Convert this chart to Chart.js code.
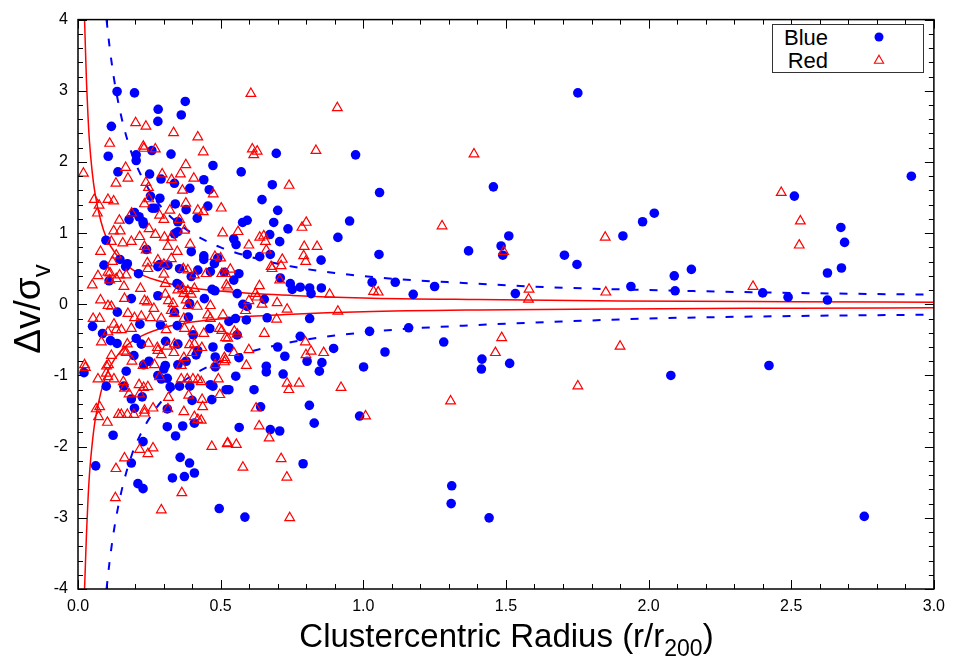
<!DOCTYPE html>
<html lang="en">
<head>
  <meta charset="UTF-8">
  <title>Clustercentric Radius vs Velocity</title>
  <script src="https://cdn.jsdelivr.net/npm/chart.js"></script>
  <style>
    body {
      margin: 0;
      background: #fff;
      font-family: "Liberation Sans", Arial, sans-serif;
    }
    #wrap {
      position: relative;
      width: 953px;
      height: 660px;
    }
    #grafico {
      position: absolute;
      left: 0;
      top: 0;
    }
    .xtitle {
      position: absolute;
      left: 78px;
      width: 857px;
      top: 619px;
      text-align: center;
      font-size: 33px;
      line-height: 33px;
      color: #000;
      white-space: nowrap;
    }
    .xtitle sub {
      font-size: 23px;
      vertical-align: -9px;
      line-height: 0;
    }
    .ytitle sub {
      font-size: 26px;
      vertical-align: -10px;
      line-height: 0;
    }
    .ytitle {
      position: absolute;
      left: -72px;
      top: 287px;
      width: 200px;
      height: 44px;
      line-height: 44px;
      text-align: center;
      font-size: 37px;
      color: #000;
      transform: rotate(-90deg);
      white-space: nowrap;
    }
    #legenda {
      position: absolute;
      left: 772px;
      top: 24px;
      width: 150px;
      height: 47px;
      border: 1px solid #333;
      background: #fff;
      font-size: 22px;
    }
    .voce {
      position: absolute;
      right: 95px;
      line-height: 22px;
    }
    .marker {
      position: absolute;
    }
  </style>
</head>
<body>
  <div id="wrap">
    <canvas id="grafico" width="953" height="660"></canvas>
    <div class="ytitle">&Delta;v/&sigma;<sub>v</sub></div>
    <div class="xtitle">Clustercentric Radius (r/r<sub>200</sub>)</div>
    <div id="legenda">
      <span class="voce" style="top:2px">Blue</span>
      <span class="voce" style="top:25px">Red</span>
      <svg class="marker" style="left:100px;top:7px" width="12" height="12"><circle cx="6" cy="5" r="4.5" fill="#0000ff"/></svg>
      <svg class="marker" style="left:99px;top:29px" width="14" height="12"><polygon points="7,1.2 11.6,9.2 2.4,9.2" fill="none" stroke="#ff0000" stroke-width="1.1"/></svg>
    </div>
  </div>

  <script>
    // galassie blu: [r/r200, dv/sigma]
    const blueGalaxies = [
      [0.137,2.99],[0.198,2.97],[0.376,2.85],[0.281,2.74],[0.362,2.66],[0.280,2.57],[0.117,2.50],
      [0.106,2.08],[0.204,2.10],[0.204,2.02],[0.259,2.16],[0.326,2.11],[0.473,1.95],[0.140,1.86],
      [0.251,1.83],[0.291,1.76],[0.441,1.75],[0.338,1.70],[0.392,1.63],[0.460,1.61],[0.254,1.52],
      [0.287,1.49],[0.341,1.41],[0.455,1.38],[0.270,1.35],[0.260,1.35],[0.379,1.33],[0.198,1.29],
      [0.214,1.23],[0.418,1.21],[0.179,1.19],[0.228,1.16],[0.350,1.16],
      [0.695,2.12],[0.973,2.10],[0.572,1.86],[0.681,1.68],[0.645,1.47],[0.700,1.32],[0.593,1.18],
      [0.577,1.15],[0.686,1.15],[0.952,1.17],
      [0.229,1.13],[0.350,1.02],[0.338,0.99],[0.098,0.90],[0.240,0.77],[0.397,0.74],[0.441,0.68],
      [0.441,0.63],[0.490,0.65],[0.478,0.57],[0.091,0.55],[0.147,0.63],[0.173,0.57],[0.167,0.53],
      [0.280,0.53],[0.287,0.56],[0.315,0.55],[0.356,0.50],[0.420,0.48],[0.464,0.46],[0.513,0.45],
      [0.212,0.43],[0.109,0.33],[0.347,0.29],[0.354,0.27],[0.397,0.39],[0.470,0.21],[0.480,0.19],
      [0.187,0.08],[0.280,0.12],[0.391,0.01],[0.443,0.08],[0.138,-0.11],[0.338,-0.11],[0.387,-0.18],
      [0.051,-0.31],[0.217,-0.28],[0.289,-0.29],[0.348,-0.30],[0.462,-0.34],[0.404,-0.43],[0.086,-0.41],
      [0.114,-0.51],[0.137,-0.55],[0.204,-0.48],[0.222,-0.56],[0.307,-0.52],[0.350,-0.56],[0.473,-0.60],
      [0.420,-0.65],[0.249,-0.80],[0.230,-0.85],[0.306,-0.86],[0.379,-0.80],[0.414,-0.71],[0.481,-0.74],
      [0.196,-0.72],[0.350,-0.85],
      [0.546,0.92],[0.554,0.84],[0.672,0.98],[0.736,1.06],[0.707,0.88],[0.911,0.94],[0.593,0.70],
      [0.637,0.67],[0.674,0.70],[0.852,0.62],[0.564,0.43],[0.546,0.34],[0.709,0.37],[0.744,0.29],
      [0.751,0.21],[0.779,0.24],[0.812,0.23],[0.817,0.15],[0.853,0.23],[0.558,0.15],[0.653,0.07],
      [0.578,0.00],[0.593,-0.03],[0.529,-0.24],[0.552,-0.20],[0.590,-0.22],[0.663,-0.19],[0.812,-0.20],
      [0.558,-0.43],[0.779,-0.45],[0.529,-0.61],[0.700,-0.60],[0.896,-0.62],[0.564,-0.75],[0.725,-0.73],
      [0.803,-0.80],[0.855,-0.82],[0.660,-0.87],[1.001,-0.88],
      [0.021,-0.96],[0.169,-0.94],[0.280,-1.00],[0.292,-1.05],[0.313,-1.04],[0.301,-0.91],[0.481,-0.88],
      [0.099,-1.15],[0.161,-1.15],[0.323,-1.16],[0.392,-1.15],[0.356,-1.15],[0.464,-1.13],[0.473,-1.15],
      [0.519,-1.20],[0.187,-1.33],[0.225,-1.30],[0.400,-1.35],[0.469,-1.34],[0.198,-1.46],[0.313,-1.47],
      [0.408,-1.67],[0.367,-1.71],[0.313,-1.72],[0.123,-1.84],[0.342,-1.85],[0.228,-1.93],[0.358,-2.15],
      [0.391,-2.23],[0.187,-2.23],[0.062,-2.27],[0.408,-2.37],[0.373,-2.42],[0.331,-2.44],[0.210,-2.52],
      [0.228,-2.59],[0.495,-2.87],
      [0.660,-0.95],[0.719,-0.98],[0.846,-0.94],[0.553,-1.01],[0.529,-1.20],[0.617,-1.20],[0.640,-1.44],
      [0.811,-1.42],[0.987,-1.57],[0.565,-1.73],[0.674,-1.76],[0.707,-1.78],[0.828,-1.67],[0.789,-2.24],
      [0.585,-2.99],
      [1.752,2.97],[1.057,1.57],[1.456,1.65],[1.055,0.70],[1.369,0.75],[1.483,0.82],[1.510,0.96],
      [1.489,0.69],[1.705,0.69],[1.749,0.56],[1.910,0.96],[1.979,1.16],[2.020,1.28],[1.031,0.31],
      [1.112,0.31],[1.250,0.25],[1.175,0.14],[1.533,0.15],[1.938,0.25],
      [1.022,-0.38],[1.159,-0.33],[1.076,-0.67],[1.282,-0.53],[1.416,-0.77],[1.414,-0.91],[1.513,-0.83],
      [1.310,-2.55],[1.308,-2.80],[1.441,-3.00],
      [2.921,1.80],[2.511,1.52],[2.674,1.08],[2.687,0.87],[2.090,0.40],[2.150,0.49],[2.627,0.44],
      [2.676,0.51],[2.093,0.19],[2.400,0.16],[2.489,0.10],[2.627,0.06],
      [2.078,-1.00],[2.422,-0.86],[2.756,-2.98]
    ];

    // galassie rosse
    const redGalaxies = [
      [0.019,1.84],[0.202,2.55],[0.238,2.50],[0.335,2.41],[0.420,2.35],[0.111,2.26],[0.229,2.22],
      [0.231,2.19],[0.271,2.18],[0.439,2.14],[0.378,1.96],[0.167,1.92],[0.295,1.83],[0.359,1.83],
      [0.175,1.77],[0.406,1.77],[0.133,1.70],[0.238,1.71],[0.328,1.75],[0.247,1.64],[0.366,1.60],
      [0.474,1.55],[0.057,1.47],[0.074,1.39],[0.105,1.47],[0.125,1.45],[0.233,1.41],[0.248,1.48],
      [0.378,1.42],[0.068,1.28],[0.188,1.28],[0.286,1.25],[0.322,1.32],[0.420,1.32],[0.439,1.30],
      [0.502,1.35],[0.145,1.18],[0.301,1.19],[0.356,1.19],
      [0.606,2.96],[0.909,2.76],[0.611,2.18],[0.628,2.15],[0.616,2.10],[0.834,2.16],[0.740,1.67],
      [0.800,1.15],
      [0.373,1.04],[0.125,1.03],[0.148,1.03],[0.507,1.00],[0.249,1.06],[0.216,0.95],[0.271,0.98],
      [0.303,0.94],[0.327,0.94],[0.187,0.88],[0.157,0.86],[0.117,0.88],[0.393,0.84],[0.233,0.81],
      [0.239,0.76],[0.315,0.81],[0.079,0.74],[0.348,0.74],[0.134,0.69],[0.480,0.67],[0.500,0.65],
      [0.280,0.62],[0.327,0.64],[0.121,0.60],[0.243,0.58],[0.301,0.56],[0.245,0.50],[0.369,0.50],
      [0.385,0.48],[0.105,0.45],[0.112,0.44],[0.070,0.40],[0.146,0.41],[0.169,0.41],[0.301,0.42],
      [0.408,0.41],[0.449,0.43],[0.504,0.43],[0.111,0.34],[0.134,0.36],[0.050,0.27],[0.161,0.25],
      [0.219,0.22],[0.306,0.29],[0.350,0.20],[0.367,0.22],[0.385,0.19],[0.408,0.22],[0.306,0.14],
      [0.371,0.15],[0.397,0.14],[0.079,0.06],[0.105,-0.02],[0.117,-0.03],[0.163,0.08],[0.233,0.05],
      [0.243,0.03],[0.266,-0.06],[0.317,0.05],[0.333,0.01],[0.379,0.06],[0.385,-0.02],[0.418,-0.03],
      [0.464,-0.02],[0.053,-0.20],[0.076,-0.20],[0.175,-0.13],[0.198,-0.19],[0.222,-0.17],[0.254,-0.19],
      [0.292,-0.20],[0.327,-0.09],[0.338,-0.13],[0.371,-0.20],[0.455,-0.15],[0.464,-0.20],[0.508,-0.15],
      [0.126,-0.28],[0.105,-0.39],[0.134,-0.36],[0.152,-0.36],[0.187,-0.34],[0.309,-0.36],[0.373,-0.34],
      [0.403,-0.38],[0.441,-0.41],[0.496,-0.34],[0.504,-0.37],[0.082,-0.53],[0.173,-0.56],[0.247,-0.55],
      [0.278,-0.61],[0.313,-0.59],[0.338,-0.56],[0.391,-0.57],[0.408,-0.56],[0.434,-0.61],[0.161,-0.66],
      [0.169,-0.68],[0.117,-0.72],[0.280,-0.65],[0.292,-0.71],[0.336,-0.68],[0.400,-0.68],[0.371,-0.75],
      [0.513,-0.75],[0.513,-0.81],[0.023,-0.85],[0.107,-0.85],[0.189,-0.80],[0.268,-0.85],[0.362,-0.86],
      [0.481,-0.85],
      [0.561,1.02],[0.785,1.08],[0.637,0.94],[0.651,0.96],[0.657,0.88],[0.599,0.83],[0.793,0.81],
      [0.838,0.81],[0.660,0.76],[0.791,0.68],[0.716,0.63],[0.798,0.60],[0.677,0.53],[0.680,0.50],
      [0.712,0.54],[0.534,0.49],[0.517,0.43],[0.707,0.34],[0.520,0.27],[0.525,0.24],[0.636,0.26],
      [0.622,0.15],[0.628,0.10],[0.882,0.14],[0.698,0.02],[0.599,0.05],[0.645,0.00],[0.733,-0.07],
      [0.587,-0.09],[0.911,-0.10],[0.696,-0.21],[0.548,-0.38],[0.558,-0.42],[0.653,-0.41],[0.517,-0.47],
      [0.525,-0.48],[0.797,-0.53],[0.599,-0.64],[0.546,-0.68],[0.817,-0.66],[0.861,-0.68],[0.799,-0.71],
      [0.517,-0.78],[0.590,-0.86],
      [0.026,-0.89],[0.100,-0.87],[0.228,-0.86],[0.070,-1.05],[0.099,-0.97],[0.105,-1.02],[0.126,-1.05],
      [0.159,-1.09],[0.163,-1.18],[0.214,-1.13],[0.245,-1.16],[0.286,-1.02],[0.362,-1.05],[0.383,-1.05],
      [0.403,-1.05],[0.420,-1.06],[0.432,-1.09],[0.492,-1.05],[0.179,-1.26],[0.216,-1.26],[0.230,-1.17],
      [0.317,-1.31],[0.388,-1.28],[0.497,-1.27],[0.064,-1.47],[0.076,-1.44],[0.072,-1.58],[0.103,-1.66],
      [0.142,-1.55],[0.152,-1.55],[0.173,-1.55],[0.196,-1.55],[0.233,-1.49],[0.233,-1.53],[0.263,-1.46],
      [0.315,-1.47],[0.371,-1.51],[0.435,-1.34],[0.437,-1.44],[0.408,-1.58],[0.420,-1.62],[0.432,-1.63],
      [0.469,-2.00],[0.523,-1.96],[0.216,-2.04],[0.245,-2.10],[0.263,-2.02],[0.163,-2.16],[0.133,-2.31],
      [0.364,-2.65],[0.131,-2.72],[0.292,-2.89],
      [0.733,-1.11],[0.775,-1.11],[0.739,-1.20],[0.922,-1.17],[0.624,-1.46],[1.008,-1.57],[0.635,-1.71],
      [0.670,-1.88],[0.525,-1.95],[0.555,-1.97],[0.712,-2.17],[0.578,-2.29],[0.732,-2.43],[0.742,-3.00],
      [1.388,2.11],[1.276,1.10],[1.848,0.94],[1.492,0.74],[1.036,0.18],[1.052,0.17],[1.581,0.21],
      [1.579,0.07],[1.850,0.17],[1.485,-0.47],[1.463,-0.68],[1.900,-0.59],[1.752,-1.15],[1.306,-1.36],
      [2.465,1.57],[2.532,1.17],[2.528,0.83],[2.366,0.25]
    ];

    // curve rosse (continue)
    const redCurveX = [0.023, 0.026, 0.03, 0.035, 0.04, 0.05, 0.06, 0.08, 0.1, 0.13, 0.17, 0.22, 0.3, 0.4, 0.55, 0.75, 1.0, 1.4, 1.9, 2.5, 3.0];
    const redUpperY = [4.0, 3.6, 3.1, 2.65, 2.3, 1.85, 1.55, 1.17, 0.93, 0.72, 0.55, 0.42, 0.31, 0.23, 0.17, 0.125, 0.09, 0.066, 0.048, 0.036, 0.028];
    const redLowerY = [-4.0, -3.65, -3.2, -2.75, -2.4, -1.95, -1.63, -1.24, -0.98, -0.76, -0.58, -0.45, -0.33, -0.25, -0.185, -0.14, -0.105, -0.08, -0.065, -0.055, -0.048];

    // curve blu (tratteggiate)
    const blueCurveX = [0.10, 0.11, 0.125, 0.14, 0.16, 0.19, 0.22, 0.26, 0.3, 0.36, 0.43, 0.5, 0.6, 0.75, 0.9, 1.1, 1.35, 1.65, 2.0, 2.5, 3.0];
    const blueUpperY = [4.0, 3.64, 3.2, 2.86, 2.5, 2.1, 1.82, 1.54, 1.33, 1.11, 0.93, 0.8, 0.67, 0.53, 0.44, 0.36, 0.3, 0.24, 0.2, 0.16, 0.135];
    const blueLowerY = [-4.0, -3.64, -3.2, -2.86, -2.5, -2.1, -1.82, -1.54, -1.33, -1.11, -0.93, -0.8, -0.67, -0.53, -0.44, -0.36, -0.3, -0.25, -0.2, -0.165, -0.145];

    const fontTick = { family: '"Liberation Sans", Arial, sans-serif', size: 16 };

    function punti(lista) {
      return lista.map(p => ({ x: p[0], y: p[1] }));
    }
    function curva(xs, ys) {
      return xs.map((v, i) => ({ x: v, y: ys[i] }));
    }

    // tacche interne su tutti e quattro i lati + cornice
    const tacche = {
      id: 'tacche',
      afterDatasetsDraw(chart) {
        const { ctx, chartArea: a, scales: { x, y } } = chart;
        ctx.save();
        ctx.strokeStyle = '#000';
        ctx.lineWidth = 1;
        ctx.beginPath();
        for (let i = 0; i <= 30; i++) {
          const px = Math.round(x.getPixelForValue(i / 10)) + 0.5;
          const len = i % 5 === 0 ? 9 : 5;
          ctx.moveTo(px, a.bottom); ctx.lineTo(px, a.bottom - len);
          ctx.moveTo(px, a.top); ctx.lineTo(px, a.top + len);
        }
        for (let i = -20; i <= 20; i++) {
          const py = Math.round(y.getPixelForValue(i / 5)) + 0.5;
          const len = i % 5 === 0 ? 9 : 5;
          ctx.moveTo(a.left, py); ctx.lineTo(a.left + len, py);
          ctx.moveTo(a.right, py); ctx.lineTo(a.right - len, py);
        }
        ctx.stroke();
        ctx.lineWidth = 1.5;
        ctx.strokeRect(a.left, a.top, a.right - a.left, a.bottom - a.top);
        ctx.restore();
      }
    };

    const ctx = document.getElementById('grafico').getContext('2d');
    const grafico = new Chart(ctx, {
      type: 'scatter',
      data: {
        datasets: [
          {
            label: 'Red',
            data: punti(redGalaxies),
            pointStyle: 'triangle',
            pointRadius: 5.6,
            pointBorderWidth: 1.2,
            pointBorderColor: '#ff0000',
            pointBackgroundColor: 'rgba(255,255,255,0)',
            order: 1
          },
          {
            label: 'Blue',
            data: punti(blueGalaxies),
            pointStyle: 'circle',
            pointRadius: 4.8,
            pointBorderWidth: 0,
            pointBackgroundColor: '#0000ff',
            order: 2
          },
          { data: curva(redCurveX, redUpperY), showLine: true, pointRadius: 0, borderColor: '#ff0000', borderWidth: 1.5, cubicInterpolationMode: 'monotone', order: 3 },
          { data: curva(redCurveX, redLowerY), showLine: true, pointRadius: 0, borderColor: '#ff0000', borderWidth: 1.5, cubicInterpolationMode: 'monotone', order: 3 },
          { data: curva(blueCurveX, blueUpperY), showLine: true, pointRadius: 0, borderColor: '#0000ff', borderWidth: 2, borderDash: [8, 11], cubicInterpolationMode: 'monotone', order: 3 },
          { data: curva(blueCurveX, blueLowerY), showLine: true, pointRadius: 0, borderColor: '#0000ff', borderWidth: 2, borderDash: [8, 11], cubicInterpolationMode: 'monotone', order: 3 }
        ]
      },
      options: {
        responsive: false,
        animation: false,
        layout: { padding: { top: 17, right: 18, left: 0, bottom: 0 } },
        plugins: {
          legend: { display: false },
          tooltip: { enabled: false }
        },
        scales: {
          x: {
            type: 'linear',
            min: 0,
            max: 3,
            afterFit: s => { s.height = 71; },
            grid: { display: false, drawTicks: false },
            border: { display: false },
            ticks: {
              stepSize: 0.5,
              padding: 8,
              color: '#000',
              font: fontTick,
              maxRotation: 0,
              autoSkip: false,
              callback: v => v.toFixed(1)
            }
          },
          y: {
            type: 'linear',
            min: -4,
            max: 4,
            afterFit: s => { s.width = 78; },
            grid: { display: false, drawTicks: false },
            border: { display: false },
            ticks: {
              stepSize: 1,
              padding: 10,
              color: '#000',
              font: fontTick,
              callback: v => String(v)
            }
          }
        }
      },
      plugins: [tacche]
    });
  </script>
</body>
</html>
